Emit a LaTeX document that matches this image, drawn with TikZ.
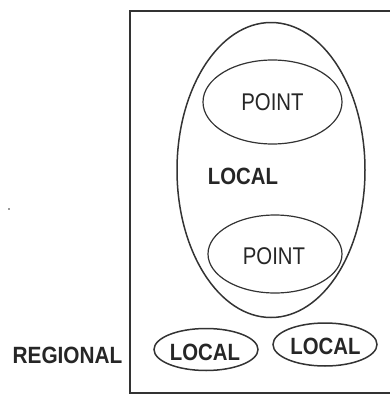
\documentclass[tikz,border=0pt]{standalone}
\usepackage{fontspec}
\setmainfont{Liberation Sans}
\usetikzlibrary{shapes.geometric}
\begin{document}
\begin{tikzpicture}[x=1pt,y=-1pt,
  ell/.style={draw=black!80, line width=1.5pt, ellipse, inner sep=0pt},
  lbl/.style={font=\fontsize{21}{23}\selectfont, text=black!85, inner sep=0pt},
  blbl/.style={lbl, font=\fontsize{21}{23}\selectfont\bfseries}]
\useasboundingbox (0,0) rectangle (390,394);
% region box
\draw[black!80, line width=2pt] (390,11) -- (130,11) -- (130,392.5) -- (390,392.5);
% big local ellipse
\node[ell, minimum width=188pt, minimum height=295pt] (big) at (271,170) {};
\node[blbl] (localtxt) at (243,176) {\scalebox{0.97}[1.12]{LOCAL}};
% points
\node[ell, line width=1.2pt, minimum width=139pt, minimum height=84pt] (p1) at (272.5,102) {};
\node[lbl] (p1t) at (272.5,102) {\scalebox{0.97}[1.15]{POINT}};
\node[ell, line width=1.2pt, minimum width=134pt, minimum height=78pt] (p2) at (275,254) {};
\node[lbl] (p2t) at (274,256) {\scalebox{0.97}[1.15]{POINT}};
% small locals
\node[ell, minimum width=104pt, minimum height=42pt] (l1) at (206,349.5) {};
\node[blbl] (l1t) at (205,352) {\scalebox{0.97}[1.12]{LOCAL}};
\node[ell, minimum width=104pt, minimum height=43pt] (l2) at (325,344.5) {};
\node[blbl] (l2t) at (325.5,346) {\scalebox{0.97}[1.12]{LOCAL}};
% regional label
\node[blbl] (reg) at (67.5,355.5) {\scalebox{0.99}[1.12]{REGIONAL}};
% speck
\fill[black!80] (9,209) circle (0.8pt);
\end{tikzpicture}
\end{document}
